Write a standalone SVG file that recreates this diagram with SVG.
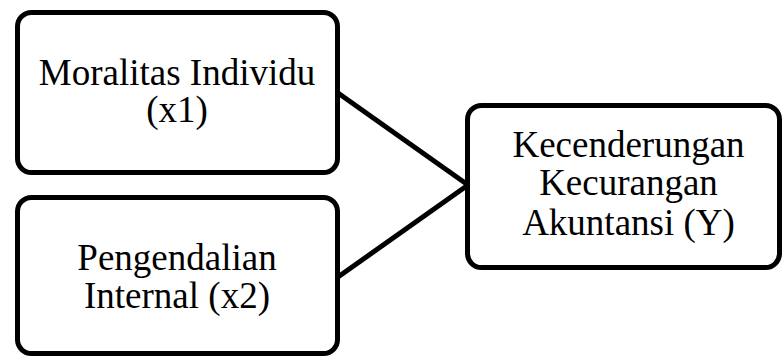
<svg xmlns="http://www.w3.org/2000/svg" width="782" height="356" viewBox="0 0 782 356">
<style>
.box{fill:#fff;stroke:#000;stroke-width:5}
.t{font-family:"Liberation Serif","Times New Roman",serif;font-size:37px;fill:#000;text-anchor:middle}
.c{stroke:#000;stroke-width:5;fill:none}
</style>
<rect width="782" height="356" fill="#fff"/>
<g id="connectors">
<line class="c" x1="338" y1="93" x2="468" y2="185"/>
<line class="c" x1="338" y1="277" x2="468" y2="185"/>
</g>
<g id="n1">
<rect class="box" x="17.5" y="12.5" width="320" height="160" rx="14"/>
<text class="t" x="177" y="85">Moralitas Individu</text>
<text class="t" x="177" y="122">(x1)</text>
</g>
<g id="n2">
<rect class="box" x="17.5" y="197.5" width="320" height="156" rx="14"/>
<text class="t" x="177" y="270">Pengendalian</text>
<text class="t" x="177" y="308">Internal (x2)</text>
</g>
<g id="n3">
<rect class="box" x="467.5" y="105.5" width="312" height="162" rx="14"/>
<text class="t" x="628.5" y="157">Kecenderungan</text>
<text class="t" x="628.5" y="195">Kecurangan</text>
<text class="t" x="628.5" y="235">Akuntansi (Y)</text>
</g>
</svg>
